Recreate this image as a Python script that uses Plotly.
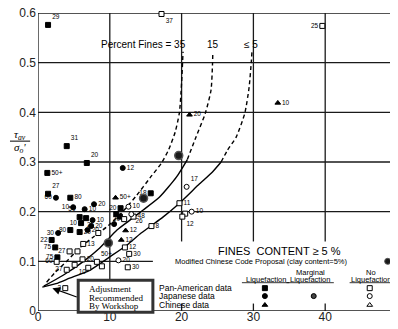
import plotly.graph_objects as go

# ---------------- curves ----------------
c5_lo_x = [0.6, 2.5, 4.4, 7.2, 10.0, 12.4, 14.2, 15.8, 17.4, 19.7, 22.5, 24.3, 25.5]
c5_lo_y = [0.048, 0.055, 0.066, 0.082, 0.109, 0.133, 0.155, 0.172, 0.189, 0.217, 0.256, 0.280, 0.300]
c5_hi_x = [25.5, 26.4, 27.6, 28.8, 29.4, 29.7, 29.8]
c5_hi_y = [0.300, 0.324, 0.350, 0.398, 0.450, 0.500, 0.522]

c15_lo_x = [0.8, 3.5, 6.25, 8.6, 11.0, 12.8, 14.6, 16.9, 19.3, 20.8]
c15_lo_y = [0.050, 0.072, 0.099, 0.127, 0.163, 0.183, 0.203, 0.229, 0.270, 0.305]
c15_hi_x = [20.8, 22.0, 23.3, 24.1, 24.3, 24.35]
c15_hi_y = [0.305, 0.350, 0.398, 0.445, 0.495, 0.522]

c35_x = [1.2, 2.4, 4.0, 5.8, 7.8, 9.8, 11.8, 13.75, 15.6, 17.2, 18.2, 19.1, 19.7, 20.0, 20.2]
c35_y = [0.058, 0.078, 0.100, 0.127, 0.150, 0.172, 0.200, 0.233, 0.268, 0.298, 0.325, 0.360, 0.400, 0.460, 0.522]

# ---------------- data points ----------------
pan_liq_x = [1.4, 4.0, 6.8, 1.3, 1.4, 4.5, 5.8, 6.0, 15.7, 11.5, 10.9, 1.9, 2.4, 2.7, 5.8, 4.5, 6.7, 11.4]
pan_liq_y = [0.576, 0.332, 0.298, 0.278, 0.236, 0.228, 0.189, 0.177, 0.237, 0.207, 0.195, 0.143, 0.128, 0.108, 0.159, 0.163, 0.187, 0.190]
pan_liq_lbl = ["29", "31", "20", "50+", "27", "80", "50", "10", "18", "20", "", "22", "75", "75", "20", "80", "", ""]

jap_liq_x = [11.8, 2.5, 4.9, 6.5, 7.8, 7.6, 7.4, 2.8, 6.9, 10.6]
jap_liq_y = [0.288, 0.228, 0.209, 0.205, 0.215, 0.183, 0.171, 0.157, 0.163, 0.175]
jap_liq_lbl = ["12", "60", "10", "10", "20", "10", "20", "30", "20", ""]

chi_liq_x = [33.4, 21.1, 10.8, 12.2, 11.6]
chi_liq_y = [0.419, 0.395, 0.228, 0.162, 0.143]
chi_liq_lbl = ["10", "20", "50+", "12", "12"]

pan_no_x = [17.2, 39.6, 19.7, 20.5, 20.1, 15.8, 12.1, 12.7, 12.5, 8.4, 6.3, 5.5, 4.4, 2.6, 4.0, 5.1, 6.2, 8.2, 8.9, 3.8, 12.0, 13.3, 7.0]
pan_no_y = [0.598, 0.574, 0.217, 0.196, 0.190, 0.171, 0.128, 0.115, 0.088, 0.157, 0.135, 0.120, 0.120, 0.099, 0.083, 0.093, 0.104, 0.099, 0.090, 0.046, 0.185, 0.190, 0.087]
pan_no_lbl = ["37", "25", "11", "", "12", "8", "12", "30", "30", "25", "13", "", "27", "60", "27", "10", "20", "50+", "", "3", "20", "48", ""]

jap_no_x = [20.7, 21.4, 11.2, 12.6, 13.0]
jap_no_y = [0.250, 0.200, 0.102, 0.210, 0.195]
jap_no_lbl = ["17", "10", "20", "10", "26"]

marg_x = [19.6, 14.7, 9.8]
marg_y = [0.313, 0.227, 0.137]

x_ticks = [0, 10, 20, 30, 40, 50]
y_ticks = [0, 0.1, 0.2, 0.3, 0.4, 0.5, 0.6]
y_ticktext = ["0", "0.1", "0.2", "0.3", "0.4", "0.5", "0.6"]

# ---------------- label positions (style only) ----------------
pan_liq_pos = ["top right", "top right", "top right", "middle right", "top right", "middle right", "top left",
               "middle left", "middle left", "middle left", "middle right", "middle left", "middle left",
               "middle left", "middle right", "middle left", "middle right", "middle right"]
jap_liq_pos = ["middle right", "middle left", "middle left", "middle right", "middle right", "middle right",
               "middle right", "middle left", "middle right", "middle right"]
chi_liq_pos = ["middle right", "middle right", "middle right", "middle right", "middle right"]
pan_no_pos = ["bottom right", "middle left", "middle right", "middle right", "bottom right", "middle right",
              "middle right", "middle right", "middle right", "top left", "middle right", "middle right",
              "middle left", "middle left", "middle left", "bottom right", "middle right", "top right",
              "middle right", "middle left", "middle left", "middle right", "middle right"]
jap_no_pos = ["top right", "middle right", "middle right", "middle right", "bottom right"]

FONT = "Liberation Sans"
fig = go.Figure()


def curve(x, y, dash):
    fig.add_trace(go.Scatter(x=x, y=y, mode="lines", hoverinfo="skip", showlegend=False,
                             line=dict(color="black", width=1.4, dash=dash, shape="spline", smoothing=0.6)))


curve(c5_lo_x, c5_lo_y, "solid")
curve(c5_hi_x, c5_hi_y, "4px,3px")
curve(c15_lo_x, c15_lo_y, "solid")
curve(c15_hi_x, c15_hi_y, "4px,3px")
curve(c35_x, c35_y, "4px,3px")


def pts(x, y, lbl, pos, symbol, fill):
    fig.add_trace(go.Scatter(x=x, y=y, mode="markers+text", text=lbl, textposition=pos,
                             textfont=dict(family=FONT, size=6.5, color="black"),
                             marker=dict(symbol=symbol, size=5, color=fill, line=dict(color="black", width=1)),
                             showlegend=False, hoverinfo="skip", cliponaxis=False))


pts(pan_liq_x, pan_liq_y, pan_liq_lbl, pan_liq_pos, "square", "black")
pts(jap_liq_x, jap_liq_y, jap_liq_lbl, jap_liq_pos, "circle", "black")
pts(chi_liq_x, chi_liq_y, chi_liq_lbl, chi_liq_pos, "triangle-up", "black")
pts(pan_no_x, pan_no_y, pan_no_lbl, pan_no_pos, "square", "white")
pts(jap_no_x, jap_no_y, jap_no_lbl, jap_no_pos, "circle", "white")
fig.add_trace(go.Scatter(x=marg_x, y=marg_y, mode="markers", showlegend=False, hoverinfo="skip",
                         marker=dict(symbol="circle", size=8, color="#1a1a1a", line=dict(color="#555", width=1.5))))

# legend symbols
fig.add_trace(go.Scatter(x=[31.6, 31.6, 31.6, 38.4, 46.2, 46.2, 46.2],
                         y=[0.046, 0.030, 0.012, 0.030, 0.046, 0.030, 0.012],
                         mode="markers", showlegend=False, hoverinfo="skip", cliponaxis=False,
                         marker=dict(symbol=["square", "circle", "triangle-up", "circle", "square", "circle", "triangle-up"],
                                     color=["black", "black", "black", "#444", "white", "white", "white"],
                                     size=5, line=dict(color="black", width=1))))
fig.add_trace(go.Scatter(x=[48.7], y=[0.100], mode="markers", showlegend=False, hoverinfo="skip", cliponaxis=False,
                         marker=dict(symbol="circle", size=6, color="#1a1a1a", line=dict(color="#555", width=1))))

shapes = []
L = dict(color="#1a1a1a", width=1.3)


def seg(x0, y0, x1, y1, line=L):
    shapes.append(dict(type="line", xref="x", yref="y", x0=x0, y0=y0, x1=x1, y1=y1, line=line, layer="below"))


# frame / grid
seg(0, 0, 0, 0.6)
seg(0, 0, 50, 0)
seg(0, 0.6, 50, 0.6)
seg(50, 0, 50, 0.6)
seg(0, 0.1, 16, 0.1)
for yy in [0.2, 0.3, 0.4, 0.5]:
    seg(0, yy, 50, yy)
seg(10, 0.062, 10, 0.6)
for xx in [20, 30, 40]:
    seg(xx, 0.14, xx, 0.6)
    seg(xx, 0, xx, 0.015)
seg(49.2, 0.1, 50, 0.1, dict(color="black", width=1))

# box
shapes.append(dict(type="rect", xref="x", yref="paper", x0=5.6, x1=16.0, y0=-0.004, y1=0.062 / 0.6,
                   line=dict(color="#333", width=3), fillcolor="white", layer="above"))
# y title fraction bar
shapes.append(dict(type="line", xref="paper", yref="y", x0=-0.078, x1=-0.022, y0=0.342, y1=0.342,
                   line=dict(color="black", width=1)))
# legend underlines
for cx, hw in [(31.7, 3.3), (37.9, 3.3), (46.4, 3.0)]:
    shapes.append(dict(type="line", xref="x", yref="y", x0=cx - hw, x1=cx + hw, y0=0.057, y1=0.057,
                       line=dict(color="black", width=0.8)))

ann = []


def txt(x, y, s, size=9, family=FONT, xanchor="center", xref="x", **kw):
    ann.append(dict(x=x, y=y, xref=xref, yref="y", text=s, showarrow=False, xanchor=xanchor,
                    yanchor="middle", font=dict(family=family, size=size, color="black"), **kw))


txt(20.9, 0.537, "Percent Fines = 35", size=10, xanchor="right")
txt(24.4, 0.537, "15", size=10)
txt(29.7, 0.537, "≤ 5", size=10)
txt(33.7, 0.121, "FINES  CONTENT ≥ 5 %", size=11)
txt(18.8, 0.100, "Modified Chinese Code Proposal (clay content=5%)", size=7.5, xanchor="left")
txt(16.6, 0.046, "Pan-American data", size=8.5, xanchor="left")
txt(16.6, 0.030, "Japanese data", size=8.5, xanchor="left")
txt(16.6, 0.012, "Chinese data", size=8.5, xanchor="left")
txt(31.7, 0.064, "Liquefaction", size=7.5)
txt(37.9, 0.078, "Marginal", size=7.5)
txt(37.9, 0.064, "Liquefaction", size=7.5)
txt(46.4, 0.078, "No", size=7.5)
txt(46.4, 0.064, "Liquefaction", size=7.5)
txt(6.8, 0.045, "Adjustment", size=9, family="Liberation Serif", xanchor="left")
txt(6.8, 0.027, "Recommended", size=9, family="Liberation Serif", xanchor="left")
txt(6.8, 0.010, "By Workshop", size=9, family="Liberation Serif", xanchor="left")
txt(-0.05, 0.355, "<i>τ<sub>av</sub></i>", size=11, family="Liberation Serif", xref="paper")
txt(-0.05, 0.328, "<i>σ<sub>o</sub>'</i>", size=11, family="Liberation Serif", xref="paper")
ann.append(dict(x=24.4, y=-0.028, xref="x", yref="y", text="(N<sub>1</sub>)<sub>60</sub>", showarrow=False,
                font=dict(family=FONT, size=10, color="black"), xanchor="center", yanchor="middle"))
# arrow to adjusted curve end
ann.append(dict(x=2.0, y=0.046, ax=5.6, ay=0.027, xref="x", yref="y", axref="x", ayref="y", text="",
                showarrow=True, arrowhead=2, arrowsize=1.3, arrowwidth=1.2, arrowcolor="black"))

# page body has an 8px margin: size the figure so the plot area lands where the reference has it
fig.update_layout(
    template="none",
    width=390, height=321,
    margin=dict(l=30, r=1, t=5, b=18),
    paper_bgcolor="white", plot_bgcolor="white",
    shapes=shapes, annotations=ann,
    xaxis=dict(range=[0, 50], tickvals=x_ticks, ticktext=[str(v) for v in x_ticks], showgrid=False,
               zeroline=False, showline=False, ticks="", automargin=False, ticklabelstandoff=-3,
               ticklabeloverflow="allow",
               tickfont=dict(family=FONT, size=12, color="#222")),
    yaxis=dict(range=[0, 0.6], tickvals=y_ticks, ticktext=y_ticktext, showgrid=False, zeroline=False,
               showline=False, ticks="", automargin=False, ticklabelstandoff=1,
               ticklabeloverflow="allow",
               tickfont=dict(family=FONT, size=12, color="#222")),
)

fig.write_html("out.html")
